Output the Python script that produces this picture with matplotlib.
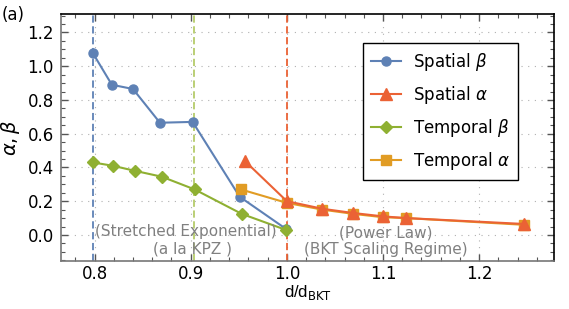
import numpy as np
import matplotlib
matplotlib.use('Agg')
import matplotlib.pyplot as plt
from matplotlib.ticker import MultipleLocator

# data
sp_beta_x = [0.798, 0.818, 0.840, 0.868, 0.902, 0.951, 0.999]
sp_beta_y = [1.08, 0.89, 0.865, 0.665, 0.67, 0.226, 0.036]

sp_alpha_x = [0.956, 1.000, 1.037, 1.069, 1.100, 1.124, 1.247]
sp_alpha_y = [0.44, 0.20, 0.155, 0.13, 0.11, 0.10, 0.065]

tm_beta_x = [0.798, 0.819, 0.842, 0.870, 0.904, 0.953, 0.999]
tm_beta_y = [0.43, 0.41, 0.38, 0.345, 0.27, 0.125, 0.03]

tm_alpha_x = [0.952, 1.000, 1.037, 1.069, 1.100, 1.124, 1.247]
tm_alpha_y = [0.27, 0.19, 0.15, 0.125, 0.105, 0.10, 0.06]

vlines_x = [0.798, 0.903, 1.0]

blue = '#5e81b5'
red = '#eb6235'
green = '#8fb032'
orange = '#e19c24'
vcols = [blue, '#b5cc6a', red]

fig = plt.figure(figsize=(5.69, 3.09), dpi=100)
ax = fig.add_axes([0.107, 0.155, 0.867, 0.80])

# grid
ax.grid(True, which='major', ls=(0, (1, 5)), color='#b0b0b0', lw=0.8)
ax.set_axisbelow(True)

for xv, c in zip(vlines_x, vcols):
    ax.axvline(xv, color=c, ls=(0, (4, 2)), lw=1.3, zorder=1)

ax.plot(sp_beta_x, sp_beta_y, '-o', color=blue, ms=6.5, lw=1.5, label=r'Spatial $\beta$', zorder=3)
ax.plot(tm_alpha_x, tm_alpha_y, '-s', color=orange, ms=6.5, lw=1.5, zorder=3)
ax.plot(sp_alpha_x, sp_alpha_y, '-^', color=red, ms=9, lw=1.5, label=r'Spatial $\alpha$', zorder=4)
ax.plot(tm_beta_x, tm_beta_y, '-D', color=green, ms=6, lw=1.5, label=r'Temporal $\beta$', zorder=3)
# legend handle for temporal alpha (keeps legend order)
ax.plot([], [], '-s', color=orange, ms=6.5, lw=1.5, label=r'Temporal $\alpha$')

ax.set_xlim(0.765, 1.278)
ax.set_ylim(-0.155, 1.31)
ax.xaxis.set_minor_locator(MultipleLocator(0.02))
ax.yaxis.set_minor_locator(MultipleLocator(0.05))
ax.set_xticks([0.8, 0.9, 1.0, 1.1, 1.2])
ax.set_xticklabels(['0.8', '0.9', '1.0', '1.1', '1.2'])
ax.set_yticks([0.0, 0.2, 0.4, 0.6, 0.8, 1.0, 1.2])
ax.set_yticklabels(['0.0', '0.2', '0.4', '0.6', '0.8', '1.0', '1.2'])
ax.tick_params(which='both', direction='in', top=True, right=True, labelsize=12, color='#555555')
ax.tick_params(axis='x', pad=3)
ax.tick_params(axis='y', pad=5)
ax.tick_params(which='major', length=5, width=1)
ax.tick_params(which='minor', length=3, width=0.8)
for s in ['left', 'bottom']:
    ax.spines[s].set_color('#777777')
for s in ['top', 'right']:
    ax.spines[s].set_color('black')
for s in ax.spines.values():
    s.set_linewidth(1.2)

ax.set_xlabel(r'd/d$_{\rm BKT}$', fontsize=12, family='Liberation Sans', labelpad=0)
ax.set_ylabel(r'$\alpha,\beta$', fontsize=14, labelpad=4)

ann = dict(color='#808080', fontsize=11, ha='center', va='center', zorder=5)
ax.text(0.895, 0.018, '(Stretched Exponential)', **ann)
ax.text(0.9015, -0.083, '(a la KPZ )', **ann)
ax.text(1.103, 0.012, '(Power Law)', **ann)
ax.text(1.103, -0.089, '(BKT Scaling Regime)', **ann)

fig.text(0.002, 0.95, '(a)', fontsize=12, ha='left', va='center')

leg = ax.legend(loc='upper right', bbox_to_anchor=(0.927, 0.883), fontsize=12,
                frameon=True, fancybox=False, edgecolor='black', framealpha=1,
                handlelength=1.8, labelspacing=0.65, borderpad=0.5, handletextpad=0.7,
                borderaxespad=0)
leg.get_frame().set_linewidth(1.0)

fig.savefig('out.png', dpi=100)
